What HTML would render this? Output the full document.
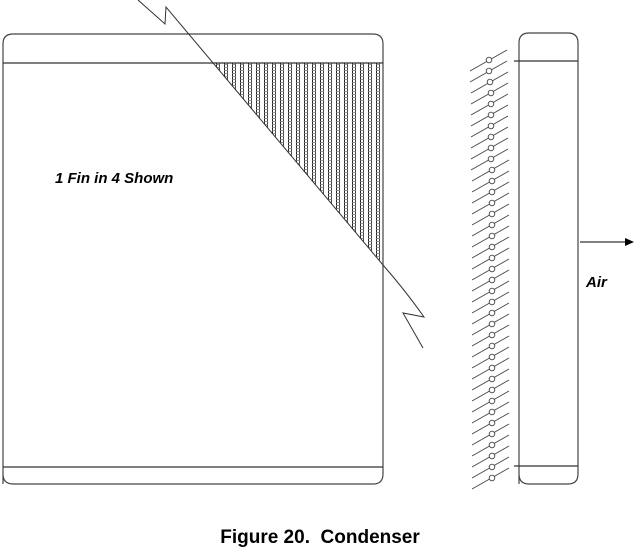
<!DOCTYPE html>
<html><head><style>
html,body{margin:0;padding:0;background:#fff;}
svg{display:block;}
text{font-family:"Liberation Sans",Arial,sans-serif;}
</style></head><body>
<svg width="640" height="549" viewBox="0 0 640 549" xmlns="http://www.w3.org/2000/svg">
<defs>
<pattern id="fin" x="0" y="63" width="8" height="3" patternUnits="userSpaceOnUse">
<line x1="0.5" y1="0" x2="0.5" y2="3" stroke="#222" stroke-width="1"/>
<line x1="3.5" y1="0" x2="3.5" y2="3" stroke="#444" stroke-width="1"/>
<line x1="0" y1="1.5" x2="4" y2="1.5" stroke="#777" stroke-width="0.8"/>
</pattern>
<clipPath id="tri"><polygon points="213,63 383,63 383,265"/></clipPath>
</defs>
<path d="M3,484 L3,44 Q3,34 13,34 L373,34 Q383,34 383,44 L383,474 Q383,484 373,484 L13,484 Q3,484 3,474 Z" fill="none" stroke="#444" stroke-width="1.2"/>
<line x1="3" y1="63" x2="383" y2="63" stroke="#333" stroke-width="1.2"/>
<line x1="3" y1="467" x2="383" y2="467" stroke="#333" stroke-width="1.2"/>
<rect x="213" y="63" width="170" height="203" fill="url(#fin)" clip-path="url(#tri)"/>
<path d="M138,0 L165,24 L166,7 L383,265 Q405,290 424,317 L403,313 L423,348" fill="none" stroke="#333" stroke-width="1"/>
<text x="55" y="183" font-size="15" font-weight="bold" font-style="italic">1 Fin in 4 Shown</text>
<path d="M519,484 L519,43 Q519,33 529,33 L568,33 Q578,33 578,43 L578,474 Q578,484 568,484 L529,484 Q519,484 519,474 Z" fill="none" stroke="#444" stroke-width="1.2"/>
<line x1="514" y1="61" x2="578" y2="61" stroke="#333" stroke-width="1.2"/>
<line x1="514" y1="466" x2="578" y2="466" stroke="#333" stroke-width="1.2"/>
<g stroke="#444" stroke-width="0.9" fill="#fff">
<line x1="470" y1="71" x2="507" y2="50"/><circle cx="489" cy="60" r="2.8"/>
<line x1="470" y1="82" x2="507" y2="61"/><circle cx="489" cy="71" r="2.8"/>
<line x1="471" y1="93" x2="508" y2="72"/><circle cx="490" cy="82" r="2.8"/>
<line x1="471" y1="104" x2="508" y2="83"/><circle cx="491" cy="93" r="2.8"/>
<line x1="471" y1="115" x2="508" y2="94"/><circle cx="491" cy="104" r="2.8"/>
<line x1="471" y1="126" x2="508" y2="105"/><circle cx="491" cy="115" r="2.8"/>
<line x1="471" y1="137" x2="508" y2="116"/><circle cx="491" cy="126" r="2.8"/>
<line x1="471" y1="148" x2="508" y2="127"/><circle cx="491" cy="137" r="2.8"/>
<line x1="471" y1="159" x2="508" y2="138"/><circle cx="491" cy="148" r="2.8"/>
<line x1="471" y1="170" x2="508" y2="149"/><circle cx="491" cy="159" r="2.8"/>
<line x1="472" y1="181" x2="509" y2="160"/><circle cx="492" cy="170" r="2.8"/>
<line x1="472" y1="192" x2="509" y2="171"/><circle cx="492" cy="181" r="2.8"/>
<line x1="472" y1="203" x2="509" y2="182"/><circle cx="492" cy="192" r="2.8"/>
<line x1="472" y1="214" x2="509" y2="193"/><circle cx="492" cy="203" r="2.8"/>
<line x1="472" y1="225" x2="509" y2="204"/><circle cx="492" cy="214" r="2.8"/>
<line x1="472" y1="236" x2="509" y2="215"/><circle cx="492" cy="225" r="2.8"/>
<line x1="472" y1="247" x2="509" y2="226"/><circle cx="492" cy="236" r="2.8"/>
<line x1="472" y1="258" x2="509" y2="237"/><circle cx="492" cy="247" r="2.8"/>
<line x1="472" y1="269" x2="509" y2="248"/><circle cx="492" cy="258" r="2.8"/>
<line x1="472" y1="280" x2="509" y2="259"/><circle cx="492" cy="269" r="2.8"/>
<line x1="472" y1="291" x2="509" y2="270"/><circle cx="492" cy="280" r="2.8"/>
<line x1="472" y1="302" x2="509" y2="281"/><circle cx="492" cy="291" r="2.8"/>
<line x1="472" y1="313" x2="509" y2="292"/><circle cx="492" cy="302" r="2.8"/>
<line x1="472" y1="324" x2="509" y2="303"/><circle cx="492" cy="313" r="2.8"/>
<line x1="472" y1="335" x2="509" y2="314"/><circle cx="492" cy="324" r="2.8"/>
<line x1="472" y1="346" x2="509" y2="325"/><circle cx="492" cy="335" r="2.8"/>
<line x1="472" y1="357" x2="509" y2="336"/><circle cx="492" cy="346" r="2.8"/>
<line x1="472" y1="368" x2="509" y2="347"/><circle cx="492" cy="357" r="2.8"/>
<line x1="472" y1="379" x2="509" y2="358"/><circle cx="492" cy="368" r="2.8"/>
<line x1="472" y1="390" x2="509" y2="369"/><circle cx="492" cy="379" r="2.8"/>
<line x1="472" y1="401" x2="509" y2="380"/><circle cx="492" cy="390" r="2.8"/>
<line x1="472" y1="412" x2="509" y2="391"/><circle cx="492" cy="401" r="2.8"/>
<line x1="472" y1="423" x2="509" y2="402"/><circle cx="492" cy="412" r="2.8"/>
<line x1="472" y1="434" x2="509" y2="413"/><circle cx="492" cy="423" r="2.8"/>
<line x1="472" y1="445" x2="509" y2="424"/><circle cx="492" cy="434" r="2.8"/>
<line x1="472" y1="456" x2="509" y2="435"/><circle cx="492" cy="445" r="2.8"/>
<line x1="472" y1="467" x2="509" y2="446"/><circle cx="492" cy="456" r="2.8"/>
<line x1="472" y1="478" x2="509" y2="457"/><circle cx="492" cy="467" r="2.8"/>
<line x1="472" y1="489" x2="509" y2="468"/><circle cx="492" cy="478" r="2.8"/>
</g>
<line x1="580" y1="242" x2="626" y2="242" stroke="#000" stroke-width="1"/>
<polygon points="625,238 634,242 625,246" fill="#000"/>
<text x="586" y="287" font-size="15" font-weight="bold" font-style="italic">Air</text>
<text x="320" y="543" font-size="19" font-weight="bold" text-anchor="middle">Figure 20.&#160; Condenser</text>
</svg>
</body></html>
